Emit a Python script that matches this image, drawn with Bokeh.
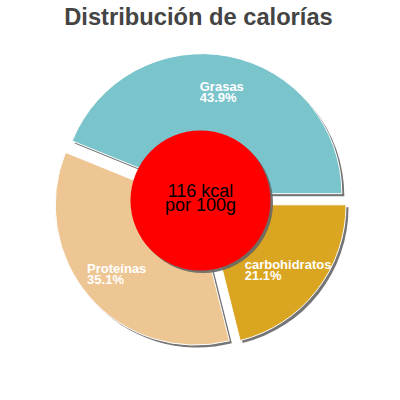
import math
from bokeh.plotting import figure
from bokeh.models import Range1d
from bokeh.core.properties import value
from bokeh.embed import file_html
from bokeh.resources import INLINE

# ---- data ----
title_text = "Distribución de calorías"
categories = ["Grasas", "Proteínas", "carbohidratos"]
percents = [43.9, 35.1, 21.1]
colors = ["#7ac4cc", "#eec693", "#daa520"]
center_lines = ["116 kcal", "por 100g"]

# ---- layout (screen pixels of the 400x400 picture) ----
W = H = 384
CX, CY = 200, 200
R = 140
R_IN = 70
EXPLODE = 7
SH = 2.5
SHADOW = "#666666"
LABEL_R = 104
BASE_K = 0.28  # baseline correction, fraction of font size


def X(sx):
    return sx


def Y(sy):
    return 400 - sy


p = figure(width=W, height=H, output_backend="svg", toolbar_location=None,
           x_range=Range1d(0, W), y_range=Range1d(400 - H, 400),
           min_border=0, outline_line_color=None)
p.axis.visible = False
p.grid.visible = False
p.background_fill_color = "white"
p.border_fill_color = "white"

total = sum(percents)
# slice angles: counterclockwise from 0 (right)
starts, ends = [], []
a = 0.0
for v in percents:
    starts.append(a)
    a += v / total * 2 * math.pi
    ends.append(a)

centers = []
for s, e in zip(starts, ends):
    m = (s + e) / 2
    centers.append((CX + EXPLODE * math.cos(m), CY - EXPLODE * math.sin(m)))

# shadows
for (sx, sy), s, e in zip(centers, starts, ends):
    p.wedge(x=X(sx + SH), y=Y(sy + SH), radius=R, radius_units="screen",
            start_angle=s, end_angle=e, fill_color=SHADOW, line_color=None,
            fill_alpha=0.9)
# slices
for (sx, sy), s, e, c in zip(centers, starts, ends, colors):
    p.wedge(x=X(sx), y=Y(sy), radius=R, radius_units="screen",
            start_angle=s, end_angle=e, fill_color=c, line_color="white",
            line_width=1)

# labels
bold_w = {"G": 778, "r": 389, "a": 556, "s": 556, "4": 556, "3": 556, ".": 278,
          "9": 556, "%": 889, "P": 667, "o": 611, "t": 333, "e": 556, "í": 278,
          "n": 611, "5": 556, "1": 556, "c": 556, "b": 611, "h": 611, "i": 278,
          "d": 611, "2": 556}


def tw(t, fs=13):
    return sum(bold_w.get(ch, 556) for ch in t) * fs / 1000.0


LFS = 13
for (sx, sy), s, e, name, v in zip(centers, starts, ends, categories, percents):
    m = (s + e) / 2
    ax = sx + LABEL_R * math.cos(m)
    ay = sy - LABEL_R * math.sin(m)
    l2 = f"{v:.1f}%"
    left = ax - max(tw(name), tw(l2)) / 2
    b1 = ay - 1 - BASE_K * LFS
    p.text(x=[X(left), X(left)], y=[Y(b1), Y(b1 + 11)], text=[name, l2],
           text_font=value("Liberation Sans"), text_font_size=f"{LFS}px",
           text_font_style="bold", text_color="white", text_align="left",
           text_baseline="alphabetic")

# center circle
p.circle(x=X(CX + SH), y=Y(CY + SH), radius=R_IN, radius_units="screen",
         fill_color=SHADOW, line_color=None, fill_alpha=0.9)
p.circle(x=X(CX), y=Y(CY), radius=R_IN, radius_units="screen",
         fill_color="#ff0000", line_color=None)
CFS = 18
cb = 195.7 - BASE_K * CFS
p.text(x=[X(CX), X(CX)], y=[Y(cb), Y(cb + 14)], text=center_lines,
       text_font=value("Liberation Sans"), text_font_size=f"{CFS}px",
       text_color="black", text_align="center", text_baseline="alphabetic")

# title
TFS = 23.7
p.text(x=[X(198)], y=[Y(23.5 - BASE_K * TFS)], text=[title_text],
       text_font=value("Liberation Sans"), text_font_size=f"{TFS}px",
       text_font_style="bold", text_color="#444444", text_align="center",
       text_baseline="alphabetic")

open("out.html", "w").write(file_html(p, INLINE))
